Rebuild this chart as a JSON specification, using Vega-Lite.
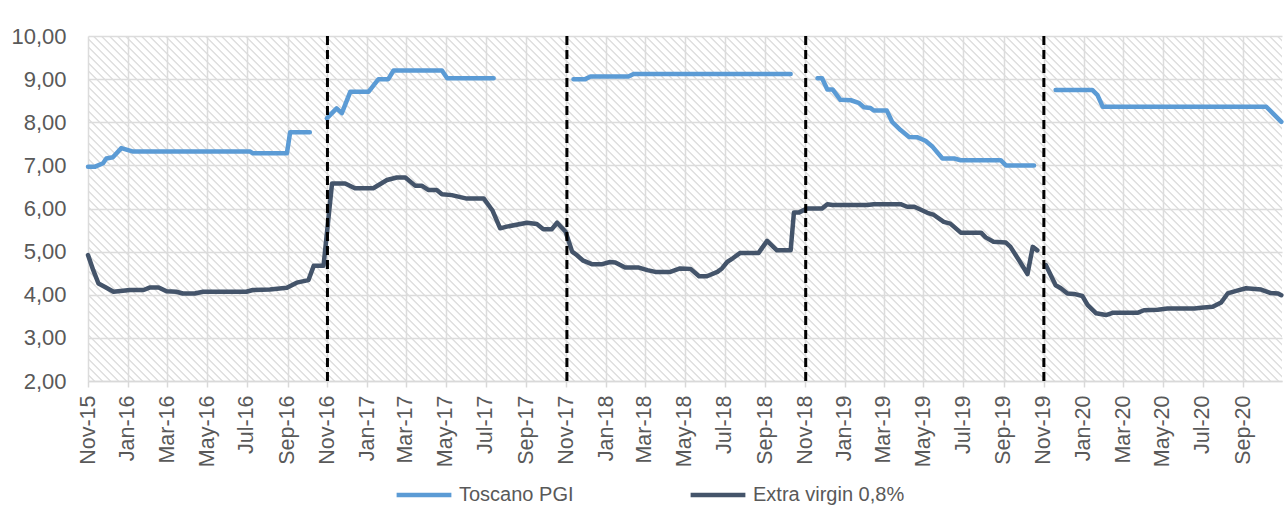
{
  "$schema": "https://vega.github.io/schema/vega-lite/v6.json",
  "width": 1194,
  "height": 345,
  "autosize": "none",
  "padding": {"left": 88, "top": 36, "right": 6, "bottom": 131},
  "background": "white",
  "config": {
    "view": {"stroke": null, "fill": {"gradient": "linear", "x1": 0, "y1": 1, "x2": 1.23677, "y2": 0.64264, "stops": [
{"offset":0.000,"color":"#fff"},{"offset":0.003,"color":"#fff"},{"offset":0.004,"color":"#d4d4d4"},{"offset":0.005,"color":"#fff"},{"offset":0.008,"color":"#fff"},{"offset":0.009,"color":"#d4d4d4"},
{"offset":0.010,"color":"#fff"},{"offset":0.013,"color":"#fff"},{"offset":0.014,"color":"#d4d4d4"},{"offset":0.015,"color":"#fff"},{"offset":0.018,"color":"#fff"},{"offset":0.019,"color":"#d4d4d4"},
{"offset":0.020,"color":"#fff"},{"offset":0.023,"color":"#fff"},{"offset":0.024,"color":"#d4d4d4"},{"offset":0.025,"color":"#fff"},{"offset":0.028,"color":"#fff"},{"offset":0.029,"color":"#d4d4d4"},
{"offset":0.030,"color":"#fff"},{"offset":0.033,"color":"#fff"},{"offset":0.034,"color":"#d4d4d4"},{"offset":0.035,"color":"#fff"},{"offset":0.038,"color":"#fff"},{"offset":0.039,"color":"#d4d4d4"},
{"offset":0.040,"color":"#fff"},{"offset":0.043,"color":"#fff"},{"offset":0.044,"color":"#d4d4d4"},{"offset":0.045,"color":"#fff"},{"offset":0.048,"color":"#fff"},{"offset":0.049,"color":"#d4d4d4"},
{"offset":0.050,"color":"#fff"},{"offset":0.053,"color":"#fff"},{"offset":0.054,"color":"#d4d4d4"},{"offset":0.055,"color":"#fff"},{"offset":0.058,"color":"#fff"},{"offset":0.059,"color":"#d4d4d4"},
{"offset":0.060,"color":"#fff"},{"offset":0.063,"color":"#fff"},{"offset":0.064,"color":"#d4d4d4"},{"offset":0.065,"color":"#fff"},{"offset":0.068,"color":"#fff"},{"offset":0.069,"color":"#d4d4d4"},
{"offset":0.070,"color":"#fff"},{"offset":0.073,"color":"#fff"},{"offset":0.074,"color":"#d4d4d4"},{"offset":0.075,"color":"#fff"},{"offset":0.078,"color":"#fff"},{"offset":0.079,"color":"#d4d4d4"},
{"offset":0.080,"color":"#fff"},{"offset":0.083,"color":"#fff"},{"offset":0.084,"color":"#d4d4d4"},{"offset":0.085,"color":"#fff"},{"offset":0.088,"color":"#fff"},{"offset":0.089,"color":"#d4d4d4"},
{"offset":0.090,"color":"#fff"},{"offset":0.093,"color":"#fff"},{"offset":0.094,"color":"#d4d4d4"},{"offset":0.095,"color":"#fff"},{"offset":0.098,"color":"#fff"},{"offset":0.099,"color":"#d4d4d4"},
{"offset":0.100,"color":"#fff"},{"offset":0.103,"color":"#fff"},{"offset":0.104,"color":"#d4d4d4"},{"offset":0.105,"color":"#fff"},{"offset":0.108,"color":"#fff"},{"offset":0.109,"color":"#d4d4d4"},
{"offset":0.110,"color":"#fff"},{"offset":0.113,"color":"#fff"},{"offset":0.114,"color":"#d4d4d4"},{"offset":0.115,"color":"#fff"},{"offset":0.118,"color":"#fff"},{"offset":0.119,"color":"#d4d4d4"},
{"offset":0.120,"color":"#fff"},{"offset":0.123,"color":"#fff"},{"offset":0.124,"color":"#d4d4d4"},{"offset":0.125,"color":"#fff"},{"offset":0.128,"color":"#fff"},{"offset":0.129,"color":"#d4d4d4"},
{"offset":0.130,"color":"#fff"},{"offset":0.133,"color":"#fff"},{"offset":0.134,"color":"#d4d4d4"},{"offset":0.135,"color":"#fff"},{"offset":0.138,"color":"#fff"},{"offset":0.139,"color":"#d4d4d4"},
{"offset":0.140,"color":"#fff"},{"offset":0.143,"color":"#fff"},{"offset":0.144,"color":"#d4d4d4"},{"offset":0.145,"color":"#fff"},{"offset":0.148,"color":"#fff"},{"offset":0.149,"color":"#d4d4d4"},
{"offset":0.150,"color":"#fff"},{"offset":0.153,"color":"#fff"},{"offset":0.154,"color":"#d4d4d4"},{"offset":0.155,"color":"#fff"},{"offset":0.158,"color":"#fff"},{"offset":0.159,"color":"#d4d4d4"},
{"offset":0.160,"color":"#fff"},{"offset":0.163,"color":"#fff"},{"offset":0.164,"color":"#d4d4d4"},{"offset":0.165,"color":"#fff"},{"offset":0.168,"color":"#fff"},{"offset":0.169,"color":"#d4d4d4"},
{"offset":0.170,"color":"#fff"},{"offset":0.173,"color":"#fff"},{"offset":0.174,"color":"#d4d4d4"},{"offset":0.175,"color":"#fff"},{"offset":0.178,"color":"#fff"},{"offset":0.179,"color":"#d4d4d4"},
{"offset":0.180,"color":"#fff"},{"offset":0.183,"color":"#fff"},{"offset":0.184,"color":"#d4d4d4"},{"offset":0.185,"color":"#fff"},{"offset":0.188,"color":"#fff"},{"offset":0.189,"color":"#d4d4d4"},
{"offset":0.190,"color":"#fff"},{"offset":0.193,"color":"#fff"},{"offset":0.194,"color":"#d4d4d4"},{"offset":0.195,"color":"#fff"},{"offset":0.198,"color":"#fff"},{"offset":0.199,"color":"#d4d4d4"},
{"offset":0.200,"color":"#fff"},{"offset":0.203,"color":"#fff"},{"offset":0.204,"color":"#d4d4d4"},{"offset":0.205,"color":"#fff"},{"offset":0.208,"color":"#fff"},{"offset":0.209,"color":"#d4d4d4"},
{"offset":0.210,"color":"#fff"},{"offset":0.213,"color":"#fff"},{"offset":0.214,"color":"#d4d4d4"},{"offset":0.215,"color":"#fff"},{"offset":0.218,"color":"#fff"},{"offset":0.219,"color":"#d4d4d4"},
{"offset":0.220,"color":"#fff"},{"offset":0.223,"color":"#fff"},{"offset":0.224,"color":"#d4d4d4"},{"offset":0.225,"color":"#fff"},{"offset":0.228,"color":"#fff"},{"offset":0.229,"color":"#d4d4d4"},
{"offset":0.230,"color":"#fff"},{"offset":0.233,"color":"#fff"},{"offset":0.234,"color":"#d4d4d4"},{"offset":0.235,"color":"#fff"},{"offset":0.238,"color":"#fff"},{"offset":0.239,"color":"#d4d4d4"},
{"offset":0.240,"color":"#fff"},{"offset":0.243,"color":"#fff"},{"offset":0.244,"color":"#d4d4d4"},{"offset":0.245,"color":"#fff"},{"offset":0.248,"color":"#fff"},{"offset":0.249,"color":"#d4d4d4"},
{"offset":0.250,"color":"#fff"},{"offset":0.253,"color":"#fff"},{"offset":0.254,"color":"#d4d4d4"},{"offset":0.255,"color":"#fff"},{"offset":0.258,"color":"#fff"},{"offset":0.259,"color":"#d4d4d4"},
{"offset":0.260,"color":"#fff"},{"offset":0.263,"color":"#fff"},{"offset":0.264,"color":"#d4d4d4"},{"offset":0.265,"color":"#fff"},{"offset":0.268,"color":"#fff"},{"offset":0.269,"color":"#d4d4d4"},
{"offset":0.270,"color":"#fff"},{"offset":0.273,"color":"#fff"},{"offset":0.274,"color":"#d4d4d4"},{"offset":0.275,"color":"#fff"},{"offset":0.278,"color":"#fff"},{"offset":0.279,"color":"#d4d4d4"},
{"offset":0.280,"color":"#fff"},{"offset":0.283,"color":"#fff"},{"offset":0.284,"color":"#d4d4d4"},{"offset":0.285,"color":"#fff"},{"offset":0.288,"color":"#fff"},{"offset":0.289,"color":"#d4d4d4"},
{"offset":0.290,"color":"#fff"},{"offset":0.293,"color":"#fff"},{"offset":0.294,"color":"#d4d4d4"},{"offset":0.295,"color":"#fff"},{"offset":0.298,"color":"#fff"},{"offset":0.299,"color":"#d4d4d4"},
{"offset":0.300,"color":"#fff"},{"offset":0.303,"color":"#fff"},{"offset":0.304,"color":"#d4d4d4"},{"offset":0.305,"color":"#fff"},{"offset":0.308,"color":"#fff"},{"offset":0.309,"color":"#d4d4d4"},
{"offset":0.310,"color":"#fff"},{"offset":0.313,"color":"#fff"},{"offset":0.314,"color":"#d4d4d4"},{"offset":0.315,"color":"#fff"},{"offset":0.318,"color":"#fff"},{"offset":0.319,"color":"#d4d4d4"},
{"offset":0.320,"color":"#fff"},{"offset":0.323,"color":"#fff"},{"offset":0.324,"color":"#d4d4d4"},{"offset":0.325,"color":"#fff"},{"offset":0.328,"color":"#fff"},{"offset":0.329,"color":"#d4d4d4"},
{"offset":0.330,"color":"#fff"},{"offset":0.333,"color":"#fff"},{"offset":0.334,"color":"#d4d4d4"},{"offset":0.335,"color":"#fff"},{"offset":0.338,"color":"#fff"},{"offset":0.339,"color":"#d4d4d4"},
{"offset":0.340,"color":"#fff"},{"offset":0.343,"color":"#fff"},{"offset":0.344,"color":"#d4d4d4"},{"offset":0.345,"color":"#fff"},{"offset":0.348,"color":"#fff"},{"offset":0.349,"color":"#d4d4d4"},
{"offset":0.350,"color":"#fff"},{"offset":0.353,"color":"#fff"},{"offset":0.354,"color":"#d4d4d4"},{"offset":0.355,"color":"#fff"},{"offset":0.358,"color":"#fff"},{"offset":0.359,"color":"#d4d4d4"},
{"offset":0.360,"color":"#fff"},{"offset":0.363,"color":"#fff"},{"offset":0.364,"color":"#d4d4d4"},{"offset":0.365,"color":"#fff"},{"offset":0.368,"color":"#fff"},{"offset":0.369,"color":"#d4d4d4"},
{"offset":0.370,"color":"#fff"},{"offset":0.373,"color":"#fff"},{"offset":0.374,"color":"#d4d4d4"},{"offset":0.375,"color":"#fff"},{"offset":0.378,"color":"#fff"},{"offset":0.379,"color":"#d4d4d4"},
{"offset":0.380,"color":"#fff"},{"offset":0.383,"color":"#fff"},{"offset":0.384,"color":"#d4d4d4"},{"offset":0.385,"color":"#fff"},{"offset":0.388,"color":"#fff"},{"offset":0.389,"color":"#d4d4d4"},
{"offset":0.390,"color":"#fff"},{"offset":0.393,"color":"#fff"},{"offset":0.394,"color":"#d4d4d4"},{"offset":0.395,"color":"#fff"},{"offset":0.398,"color":"#fff"},{"offset":0.399,"color":"#d4d4d4"},
{"offset":0.400,"color":"#fff"},{"offset":0.403,"color":"#fff"},{"offset":0.404,"color":"#d4d4d4"},{"offset":0.405,"color":"#fff"},{"offset":0.408,"color":"#fff"},{"offset":0.409,"color":"#d4d4d4"},
{"offset":0.410,"color":"#fff"},{"offset":0.413,"color":"#fff"},{"offset":0.414,"color":"#d4d4d4"},{"offset":0.415,"color":"#fff"},{"offset":0.418,"color":"#fff"},{"offset":0.419,"color":"#d4d4d4"},
{"offset":0.420,"color":"#fff"},{"offset":0.423,"color":"#fff"},{"offset":0.424,"color":"#d4d4d4"},{"offset":0.425,"color":"#fff"},{"offset":0.428,"color":"#fff"},{"offset":0.429,"color":"#d4d4d4"},
{"offset":0.430,"color":"#fff"},{"offset":0.433,"color":"#fff"},{"offset":0.434,"color":"#d4d4d4"},{"offset":0.435,"color":"#fff"},{"offset":0.438,"color":"#fff"},{"offset":0.439,"color":"#d4d4d4"},
{"offset":0.440,"color":"#fff"},{"offset":0.443,"color":"#fff"},{"offset":0.444,"color":"#d4d4d4"},{"offset":0.445,"color":"#fff"},{"offset":0.448,"color":"#fff"},{"offset":0.449,"color":"#d4d4d4"},
{"offset":0.450,"color":"#fff"},{"offset":0.453,"color":"#fff"},{"offset":0.454,"color":"#d4d4d4"},{"offset":0.455,"color":"#fff"},{"offset":0.458,"color":"#fff"},{"offset":0.459,"color":"#d4d4d4"},
{"offset":0.460,"color":"#fff"},{"offset":0.463,"color":"#fff"},{"offset":0.464,"color":"#d4d4d4"},{"offset":0.465,"color":"#fff"},{"offset":0.468,"color":"#fff"},{"offset":0.469,"color":"#d4d4d4"},
{"offset":0.470,"color":"#fff"},{"offset":0.473,"color":"#fff"},{"offset":0.474,"color":"#d4d4d4"},{"offset":0.475,"color":"#fff"},{"offset":0.478,"color":"#fff"},{"offset":0.479,"color":"#d4d4d4"},
{"offset":0.480,"color":"#fff"},{"offset":0.483,"color":"#fff"},{"offset":0.484,"color":"#d4d4d4"},{"offset":0.485,"color":"#fff"},{"offset":0.488,"color":"#fff"},{"offset":0.489,"color":"#d4d4d4"},
{"offset":0.490,"color":"#fff"},{"offset":0.493,"color":"#fff"},{"offset":0.494,"color":"#d4d4d4"},{"offset":0.495,"color":"#fff"},{"offset":0.498,"color":"#fff"},{"offset":0.499,"color":"#d4d4d4"},
{"offset":0.500,"color":"#fff"},{"offset":0.503,"color":"#fff"},{"offset":0.504,"color":"#d4d4d4"},{"offset":0.505,"color":"#fff"},{"offset":0.508,"color":"#fff"},{"offset":0.509,"color":"#d4d4d4"},
{"offset":0.510,"color":"#fff"},{"offset":0.513,"color":"#fff"},{"offset":0.514,"color":"#d4d4d4"},{"offset":0.515,"color":"#fff"},{"offset":0.518,"color":"#fff"},{"offset":0.519,"color":"#d4d4d4"},
{"offset":0.520,"color":"#fff"},{"offset":0.523,"color":"#fff"},{"offset":0.524,"color":"#d4d4d4"},{"offset":0.525,"color":"#fff"},{"offset":0.528,"color":"#fff"},{"offset":0.529,"color":"#d4d4d4"},
{"offset":0.530,"color":"#fff"},{"offset":0.533,"color":"#fff"},{"offset":0.534,"color":"#d4d4d4"},{"offset":0.535,"color":"#fff"},{"offset":0.538,"color":"#fff"},{"offset":0.539,"color":"#d4d4d4"},
{"offset":0.540,"color":"#fff"},{"offset":0.543,"color":"#fff"},{"offset":0.544,"color":"#d4d4d4"},{"offset":0.545,"color":"#fff"},{"offset":0.548,"color":"#fff"},{"offset":0.549,"color":"#d4d4d4"},
{"offset":0.550,"color":"#fff"},{"offset":0.553,"color":"#fff"},{"offset":0.554,"color":"#d4d4d4"},{"offset":0.555,"color":"#fff"},{"offset":0.558,"color":"#fff"},{"offset":0.559,"color":"#d4d4d4"},
{"offset":0.560,"color":"#fff"},{"offset":0.563,"color":"#fff"},{"offset":0.564,"color":"#d4d4d4"},{"offset":0.565,"color":"#fff"},{"offset":0.568,"color":"#fff"},{"offset":0.569,"color":"#d4d4d4"},
{"offset":0.570,"color":"#fff"},{"offset":0.573,"color":"#fff"},{"offset":0.574,"color":"#d4d4d4"},{"offset":0.575,"color":"#fff"},{"offset":0.578,"color":"#fff"},{"offset":0.579,"color":"#d4d4d4"},
{"offset":0.580,"color":"#fff"},{"offset":0.583,"color":"#fff"},{"offset":0.584,"color":"#d4d4d4"},{"offset":0.585,"color":"#fff"},{"offset":0.588,"color":"#fff"},{"offset":0.589,"color":"#d4d4d4"},
{"offset":0.590,"color":"#fff"},{"offset":0.593,"color":"#fff"},{"offset":0.594,"color":"#d4d4d4"},{"offset":0.595,"color":"#fff"},{"offset":0.598,"color":"#fff"},{"offset":0.599,"color":"#d4d4d4"},
{"offset":0.600,"color":"#fff"},{"offset":0.603,"color":"#fff"},{"offset":0.604,"color":"#d4d4d4"},{"offset":0.605,"color":"#fff"},{"offset":0.608,"color":"#fff"},{"offset":0.609,"color":"#d4d4d4"},
{"offset":0.610,"color":"#fff"},{"offset":0.613,"color":"#fff"},{"offset":0.614,"color":"#d4d4d4"},{"offset":0.615,"color":"#fff"},{"offset":0.618,"color":"#fff"},{"offset":0.619,"color":"#d4d4d4"},
{"offset":0.620,"color":"#fff"},{"offset":0.623,"color":"#fff"},{"offset":0.624,"color":"#d4d4d4"},{"offset":0.625,"color":"#fff"},{"offset":0.628,"color":"#fff"},{"offset":0.629,"color":"#d4d4d4"},
{"offset":0.630,"color":"#fff"},{"offset":0.633,"color":"#fff"},{"offset":0.634,"color":"#d4d4d4"},{"offset":0.635,"color":"#fff"},{"offset":0.638,"color":"#fff"},{"offset":0.639,"color":"#d4d4d4"},
{"offset":0.640,"color":"#fff"},{"offset":0.643,"color":"#fff"},{"offset":0.644,"color":"#d4d4d4"},{"offset":0.645,"color":"#fff"},{"offset":0.648,"color":"#fff"},{"offset":0.649,"color":"#d4d4d4"},
{"offset":0.650,"color":"#fff"},{"offset":0.653,"color":"#fff"},{"offset":0.654,"color":"#d4d4d4"},{"offset":0.655,"color":"#fff"},{"offset":0.658,"color":"#fff"},{"offset":0.659,"color":"#d4d4d4"},
{"offset":0.660,"color":"#fff"},{"offset":0.663,"color":"#fff"},{"offset":0.664,"color":"#d4d4d4"},{"offset":0.665,"color":"#fff"},{"offset":0.668,"color":"#fff"},{"offset":0.669,"color":"#d4d4d4"},
{"offset":0.670,"color":"#fff"},{"offset":0.673,"color":"#fff"},{"offset":0.674,"color":"#d4d4d4"},{"offset":0.675,"color":"#fff"},{"offset":0.678,"color":"#fff"},{"offset":0.679,"color":"#d4d4d4"},
{"offset":0.680,"color":"#fff"},{"offset":0.683,"color":"#fff"},{"offset":0.684,"color":"#d4d4d4"},{"offset":0.685,"color":"#fff"},{"offset":0.688,"color":"#fff"},{"offset":0.689,"color":"#d4d4d4"},
{"offset":0.690,"color":"#fff"},{"offset":0.693,"color":"#fff"},{"offset":0.694,"color":"#d4d4d4"},{"offset":0.695,"color":"#fff"},{"offset":0.698,"color":"#fff"},{"offset":0.699,"color":"#d4d4d4"},
{"offset":0.700,"color":"#fff"},{"offset":0.703,"color":"#fff"},{"offset":0.704,"color":"#d4d4d4"},{"offset":0.705,"color":"#fff"},{"offset":0.708,"color":"#fff"},{"offset":0.709,"color":"#d4d4d4"},
{"offset":0.710,"color":"#fff"},{"offset":0.713,"color":"#fff"},{"offset":0.714,"color":"#d4d4d4"},{"offset":0.715,"color":"#fff"},{"offset":0.718,"color":"#fff"},{"offset":0.719,"color":"#d4d4d4"},
{"offset":0.720,"color":"#fff"},{"offset":0.723,"color":"#fff"},{"offset":0.724,"color":"#d4d4d4"},{"offset":0.725,"color":"#fff"},{"offset":0.728,"color":"#fff"},{"offset":0.729,"color":"#d4d4d4"},
{"offset":0.730,"color":"#fff"},{"offset":0.733,"color":"#fff"},{"offset":0.734,"color":"#d4d4d4"},{"offset":0.735,"color":"#fff"},{"offset":0.738,"color":"#fff"},{"offset":0.739,"color":"#d4d4d4"},
{"offset":0.740,"color":"#fff"},{"offset":0.743,"color":"#fff"},{"offset":0.744,"color":"#d4d4d4"},{"offset":0.745,"color":"#fff"},{"offset":0.748,"color":"#fff"},{"offset":0.749,"color":"#d4d4d4"},
{"offset":0.750,"color":"#fff"},{"offset":0.753,"color":"#fff"},{"offset":0.754,"color":"#d4d4d4"},{"offset":0.755,"color":"#fff"},{"offset":0.758,"color":"#fff"},{"offset":0.759,"color":"#d4d4d4"},
{"offset":0.760,"color":"#fff"},{"offset":0.763,"color":"#fff"},{"offset":0.764,"color":"#d4d4d4"},{"offset":0.765,"color":"#fff"},{"offset":0.768,"color":"#fff"},{"offset":0.769,"color":"#d4d4d4"},
{"offset":0.770,"color":"#fff"},{"offset":0.773,"color":"#fff"},{"offset":0.774,"color":"#d4d4d4"},{"offset":0.775,"color":"#fff"},{"offset":0.778,"color":"#fff"},{"offset":0.779,"color":"#d4d4d4"},
{"offset":0.780,"color":"#fff"},{"offset":0.783,"color":"#fff"},{"offset":0.784,"color":"#d4d4d4"},{"offset":0.785,"color":"#fff"},{"offset":0.788,"color":"#fff"},{"offset":0.789,"color":"#d4d4d4"},
{"offset":0.790,"color":"#fff"},{"offset":0.793,"color":"#fff"},{"offset":0.794,"color":"#d4d4d4"},{"offset":0.795,"color":"#fff"},{"offset":0.798,"color":"#fff"},{"offset":0.799,"color":"#d4d4d4"},
{"offset":0.800,"color":"#fff"},{"offset":0.803,"color":"#fff"},{"offset":0.804,"color":"#d4d4d4"},{"offset":0.805,"color":"#fff"},{"offset":0.808,"color":"#fff"},{"offset":0.809,"color":"#d4d4d4"},
{"offset":0.810,"color":"#fff"},{"offset":0.813,"color":"#fff"},{"offset":0.814,"color":"#d4d4d4"},{"offset":0.815,"color":"#fff"},{"offset":0.818,"color":"#fff"},{"offset":0.819,"color":"#d4d4d4"},
{"offset":0.820,"color":"#fff"},{"offset":0.823,"color":"#fff"},{"offset":0.824,"color":"#d4d4d4"},{"offset":0.825,"color":"#fff"},{"offset":0.828,"color":"#fff"},{"offset":0.829,"color":"#d4d4d4"},
{"offset":0.830,"color":"#fff"},{"offset":0.833,"color":"#fff"},{"offset":0.834,"color":"#d4d4d4"},{"offset":0.835,"color":"#fff"},{"offset":0.838,"color":"#fff"},{"offset":0.839,"color":"#d4d4d4"},
{"offset":0.840,"color":"#fff"},{"offset":0.843,"color":"#fff"},{"offset":0.844,"color":"#d4d4d4"},{"offset":0.845,"color":"#fff"},{"offset":0.848,"color":"#fff"},{"offset":0.849,"color":"#d4d4d4"},
{"offset":0.850,"color":"#fff"},{"offset":0.853,"color":"#fff"},{"offset":0.854,"color":"#d4d4d4"},{"offset":0.855,"color":"#fff"},{"offset":0.858,"color":"#fff"},{"offset":0.859,"color":"#d4d4d4"},
{"offset":0.860,"color":"#fff"},{"offset":0.863,"color":"#fff"},{"offset":0.864,"color":"#d4d4d4"},{"offset":0.865,"color":"#fff"},{"offset":0.868,"color":"#fff"},{"offset":0.869,"color":"#d4d4d4"},
{"offset":0.870,"color":"#fff"},{"offset":0.873,"color":"#fff"},{"offset":0.874,"color":"#d4d4d4"},{"offset":0.875,"color":"#fff"},{"offset":0.878,"color":"#fff"},{"offset":0.879,"color":"#d4d4d4"},
{"offset":0.880,"color":"#fff"},{"offset":0.883,"color":"#fff"},{"offset":0.884,"color":"#d4d4d4"},{"offset":0.885,"color":"#fff"},{"offset":0.888,"color":"#fff"},{"offset":0.889,"color":"#d4d4d4"},
{"offset":0.890,"color":"#fff"},{"offset":0.893,"color":"#fff"},{"offset":0.894,"color":"#d4d4d4"},{"offset":0.895,"color":"#fff"},{"offset":0.898,"color":"#fff"},{"offset":0.899,"color":"#d4d4d4"},
{"offset":0.900,"color":"#fff"},{"offset":0.903,"color":"#fff"},{"offset":0.904,"color":"#d4d4d4"},{"offset":0.905,"color":"#fff"},{"offset":0.908,"color":"#fff"},{"offset":0.909,"color":"#d4d4d4"},
{"offset":0.910,"color":"#fff"},{"offset":0.913,"color":"#fff"},{"offset":0.914,"color":"#d4d4d4"},{"offset":0.915,"color":"#fff"},{"offset":0.918,"color":"#fff"},{"offset":0.919,"color":"#d4d4d4"},
{"offset":0.920,"color":"#fff"},{"offset":0.923,"color":"#fff"},{"offset":0.924,"color":"#d4d4d4"},{"offset":0.925,"color":"#fff"},{"offset":0.928,"color":"#fff"},{"offset":0.929,"color":"#d4d4d4"},
{"offset":0.930,"color":"#fff"},{"offset":0.933,"color":"#fff"},{"offset":0.934,"color":"#d4d4d4"},{"offset":0.935,"color":"#fff"},{"offset":0.938,"color":"#fff"},{"offset":0.939,"color":"#d4d4d4"},
{"offset":0.940,"color":"#fff"},{"offset":0.943,"color":"#fff"},{"offset":0.944,"color":"#d4d4d4"},{"offset":0.945,"color":"#fff"},{"offset":0.948,"color":"#fff"},{"offset":0.949,"color":"#d4d4d4"},
{"offset":0.950,"color":"#fff"},{"offset":0.953,"color":"#fff"},{"offset":0.954,"color":"#d4d4d4"},{"offset":0.955,"color":"#fff"},{"offset":0.958,"color":"#fff"},{"offset":0.959,"color":"#d4d4d4"},
{"offset":0.960,"color":"#fff"},{"offset":0.963,"color":"#fff"},{"offset":0.964,"color":"#d4d4d4"},{"offset":0.965,"color":"#fff"},{"offset":0.968,"color":"#fff"},{"offset":0.969,"color":"#d4d4d4"},
{"offset":0.970,"color":"#fff"}
]}},
    "font": "Liberation Sans",
    "axis": {"labelColor": "#595959", "labelFont": "Liberation Sans"}
  },
  "datasets": {
    "prices": [
      {"series": "Toscano PGI", "seg": "t1", "date": "2015-11-01T00:00:00", "price": 6.97},
      {"series": "Toscano PGI", "seg": "t1", "date": "2015-11-12T00:00:00", "price": 6.97},
      {"series": "Toscano PGI", "seg": "t1", "date": "2015-11-24T00:00:00", "price": 7.05},
      {"series": "Toscano PGI", "seg": "t1", "date": "2015-11-29T00:00:00", "price": 7.16},
      {"series": "Toscano PGI", "seg": "t1", "date": "2015-12-09T00:00:00", "price": 7.19},
      {"series": "Toscano PGI", "seg": "t1", "date": "2015-12-22T00:00:00", "price": 7.40},
      {"series": "Toscano PGI", "seg": "t1", "date": "2016-01-09T00:00:00", "price": 7.32},
      {"series": "Toscano PGI", "seg": "t1", "date": "2016-07-06T00:00:00", "price": 7.32},
      {"series": "Toscano PGI", "seg": "t1", "date": "2016-07-10T00:00:00", "price": 7.28},
      {"series": "Toscano PGI", "seg": "t1", "date": "2016-08-31T00:00:00", "price": 7.28},
      {"series": "Toscano PGI", "seg": "t1", "date": "2016-09-05T00:00:00", "price": 7.77},
      {"series": "Toscano PGI", "seg": "t1", "date": "2016-10-05T00:00:00", "price": 7.77},
      {"series": "Toscano PGI", "seg": "t2", "date": "2016-10-31T00:00:00", "price": 8.09},
      {"series": "Toscano PGI", "seg": "t2", "date": "2016-11-15T00:00:00", "price": 8.32},
      {"series": "Toscano PGI", "seg": "t2", "date": "2016-11-23T00:00:00", "price": 8.21},
      {"series": "Toscano PGI", "seg": "t2", "date": "2016-12-06T00:00:00", "price": 8.71},
      {"series": "Toscano PGI", "seg": "t2", "date": "2017-01-03T00:00:00", "price": 8.71},
      {"series": "Toscano PGI", "seg": "t2", "date": "2017-01-18T00:00:00", "price": 9.00},
      {"series": "Toscano PGI", "seg": "t2", "date": "2017-02-02T00:00:00", "price": 9.00},
      {"series": "Toscano PGI", "seg": "t2", "date": "2017-02-10T00:00:00", "price": 9.20},
      {"series": "Toscano PGI", "seg": "t2", "date": "2017-04-25T00:00:00", "price": 9.20},
      {"series": "Toscano PGI", "seg": "t2", "date": "2017-05-03T00:00:00", "price": 9.02},
      {"series": "Toscano PGI", "seg": "t2", "date": "2017-07-13T00:00:00", "price": 9.02},
      {"series": "Toscano PGI", "seg": "t3", "date": "2017-11-12T00:00:00", "price": 9.00},
      {"series": "Toscano PGI", "seg": "t3", "date": "2017-11-30T00:00:00", "price": 9.00},
      {"series": "Toscano PGI", "seg": "t3", "date": "2017-12-08T00:00:00", "price": 9.06},
      {"series": "Toscano PGI", "seg": "t3", "date": "2018-02-04T00:00:00", "price": 9.06},
      {"series": "Toscano PGI", "seg": "t3", "date": "2018-02-12T00:00:00", "price": 9.12},
      {"series": "Toscano PGI", "seg": "t3", "date": "2018-10-10T00:00:00", "price": 9.12},
      {"series": "Toscano PGI", "seg": "t4", "date": "2018-11-20T00:00:00", "price": 9.02},
      {"series": "Toscano PGI", "seg": "t4", "date": "2018-11-27T00:00:00", "price": 9.02},
      {"series": "Toscano PGI", "seg": "t4", "date": "2018-12-05T00:00:00", "price": 8.76},
      {"series": "Toscano PGI", "seg": "t4", "date": "2018-12-13T00:00:00", "price": 8.76},
      {"series": "Toscano PGI", "seg": "t4", "date": "2018-12-25T00:00:00", "price": 8.52},
      {"series": "Toscano PGI", "seg": "t4", "date": "2019-01-10T00:00:00", "price": 8.51},
      {"series": "Toscano PGI", "seg": "t4", "date": "2019-01-22T00:00:00", "price": 8.45},
      {"series": "Toscano PGI", "seg": "t4", "date": "2019-01-30T00:00:00", "price": 8.35},
      {"series": "Toscano PGI", "seg": "t4", "date": "2019-02-09T00:00:00", "price": 8.33},
      {"series": "Toscano PGI", "seg": "t4", "date": "2019-02-14T00:00:00", "price": 8.27},
      {"series": "Toscano PGI", "seg": "t4", "date": "2019-03-06T00:00:00", "price": 8.27},
      {"series": "Toscano PGI", "seg": "t4", "date": "2019-03-14T00:00:00", "price": 8.01},
      {"series": "Toscano PGI", "seg": "t4", "date": "2019-03-27T00:00:00", "price": 7.82},
      {"series": "Toscano PGI", "seg": "t4", "date": "2019-04-09T00:00:00", "price": 7.66},
      {"series": "Toscano PGI", "seg": "t4", "date": "2019-04-22T00:00:00", "price": 7.65},
      {"series": "Toscano PGI", "seg": "t4", "date": "2019-05-04T00:00:00", "price": 7.57},
      {"series": "Toscano PGI", "seg": "t4", "date": "2019-05-15T00:00:00", "price": 7.43},
      {"series": "Toscano PGI", "seg": "t4", "date": "2019-05-30T00:00:00", "price": 7.16},
      {"series": "Toscano PGI", "seg": "t4", "date": "2019-06-17T00:00:00", "price": 7.16},
      {"series": "Toscano PGI", "seg": "t4", "date": "2019-06-27T00:00:00", "price": 7.12},
      {"series": "Toscano PGI", "seg": "t4", "date": "2019-08-27T00:00:00", "price": 7.12},
      {"series": "Toscano PGI", "seg": "t4", "date": "2019-09-04T00:00:00", "price": 7.00},
      {"series": "Toscano PGI", "seg": "t4", "date": "2019-10-17T00:00:00", "price": 7.00},
      {"series": "Toscano PGI", "seg": "t5", "date": "2019-11-19T00:00:00", "price": 8.75},
      {"series": "Toscano PGI", "seg": "t5", "date": "2020-01-14T00:00:00", "price": 8.75},
      {"series": "Toscano PGI", "seg": "t5", "date": "2020-01-22T00:00:00", "price": 8.63},
      {"series": "Toscano PGI", "seg": "t5", "date": "2020-01-30T00:00:00", "price": 8.36},
      {"series": "Toscano PGI", "seg": "t5", "date": "2020-10-06T00:00:00", "price": 8.36},
      {"series": "Toscano PGI", "seg": "t5", "date": "2020-10-29T00:00:00", "price": 8.01},
      {"series": "Extra virgin 0,8%", "seg": "e1", "date": "2015-11-01T00:00:00", "price": 4.92},
      {"series": "Extra virgin 0,8%", "seg": "e1", "date": "2015-11-09T00:00:00", "price": 4.57},
      {"series": "Extra virgin 0,8%", "seg": "e1", "date": "2015-11-17T00:00:00", "price": 4.26},
      {"series": "Extra virgin 0,8%", "seg": "e1", "date": "2015-11-27T00:00:00", "price": 4.18},
      {"series": "Extra virgin 0,8%", "seg": "e1", "date": "2015-12-10T00:00:00", "price": 4.07},
      {"series": "Extra virgin 0,8%", "seg": "e1", "date": "2016-01-04T00:00:00", "price": 4.11},
      {"series": "Extra virgin 0,8%", "seg": "e1", "date": "2016-01-25T00:00:00", "price": 4.11},
      {"series": "Extra virgin 0,8%", "seg": "e1", "date": "2016-02-04T00:00:00", "price": 4.17},
      {"series": "Extra virgin 0,8%", "seg": "e1", "date": "2016-02-17T00:00:00", "price": 4.17},
      {"series": "Extra virgin 0,8%", "seg": "e1", "date": "2016-02-29T00:00:00", "price": 4.08},
      {"series": "Extra virgin 0,8%", "seg": "e1", "date": "2016-03-15T00:00:00", "price": 4.07},
      {"series": "Extra virgin 0,8%", "seg": "e1", "date": "2016-03-25T00:00:00", "price": 4.03},
      {"series": "Extra virgin 0,8%", "seg": "e1", "date": "2016-04-12T00:00:00", "price": 4.03},
      {"series": "Extra virgin 0,8%", "seg": "e1", "date": "2016-04-25T00:00:00", "price": 4.07},
      {"series": "Extra virgin 0,8%", "seg": "e1", "date": "2016-06-30T00:00:00", "price": 4.07},
      {"series": "Extra virgin 0,8%", "seg": "e1", "date": "2016-07-10T00:00:00", "price": 4.11},
      {"series": "Extra virgin 0,8%", "seg": "e1", "date": "2016-08-05T00:00:00", "price": 4.12},
      {"series": "Extra virgin 0,8%", "seg": "e1", "date": "2016-08-31T00:00:00", "price": 4.16},
      {"series": "Extra virgin 0,8%", "seg": "e1", "date": "2016-09-15T00:00:00", "price": 4.28},
      {"series": "Extra virgin 0,8%", "seg": "e1", "date": "2016-10-03T00:00:00", "price": 4.34},
      {"series": "Extra virgin 0,8%", "seg": "e1", "date": "2016-10-11T00:00:00", "price": 4.67},
      {"series": "Extra virgin 0,8%", "seg": "e1", "date": "2016-10-26T00:00:00", "price": 4.67},
      {"series": "Extra virgin 0,8%", "seg": "e1", "date": "2016-11-08T00:00:00", "price": 6.58},
      {"series": "Extra virgin 0,8%", "seg": "e1", "date": "2016-11-28T00:00:00", "price": 6.58},
      {"series": "Extra virgin 0,8%", "seg": "e1", "date": "2016-12-13T00:00:00", "price": 6.47},
      {"series": "Extra virgin 0,8%", "seg": "e1", "date": "2017-01-10T00:00:00", "price": 6.47},
      {"series": "Extra virgin 0,8%", "seg": "e1", "date": "2017-01-31T00:00:00", "price": 6.66},
      {"series": "Extra virgin 0,8%", "seg": "e1", "date": "2017-02-15T00:00:00", "price": 6.72},
      {"series": "Extra virgin 0,8%", "seg": "e1", "date": "2017-02-28T00:00:00", "price": 6.72},
      {"series": "Extra virgin 0,8%", "seg": "e1", "date": "2017-03-15T00:00:00", "price": 6.53},
      {"series": "Extra virgin 0,8%", "seg": "e1", "date": "2017-03-25T00:00:00", "price": 6.53},
      {"series": "Extra virgin 0,8%", "seg": "e1", "date": "2017-04-04T00:00:00", "price": 6.43},
      {"series": "Extra virgin 0,8%", "seg": "e1", "date": "2017-04-17T00:00:00", "price": 6.43},
      {"series": "Extra virgin 0,8%", "seg": "e1", "date": "2017-04-25T00:00:00", "price": 6.33},
      {"series": "Extra virgin 0,8%", "seg": "e1", "date": "2017-05-10T00:00:00", "price": 6.31},
      {"series": "Extra virgin 0,8%", "seg": "e1", "date": "2017-06-02T00:00:00", "price": 6.23},
      {"series": "Extra virgin 0,8%", "seg": "e1", "date": "2017-06-28T00:00:00", "price": 6.23},
      {"series": "Extra virgin 0,8%", "seg": "e1", "date": "2017-07-11T00:00:00", "price": 5.96},
      {"series": "Extra virgin 0,8%", "seg": "e1", "date": "2017-07-23T00:00:00", "price": 5.54},
      {"series": "Extra virgin 0,8%", "seg": "e1", "date": "2017-08-02T00:00:00", "price": 5.58},
      {"series": "Extra virgin 0,8%", "seg": "e1", "date": "2017-09-02T00:00:00", "price": 5.67},
      {"series": "Extra virgin 0,8%", "seg": "e1", "date": "2017-09-17T00:00:00", "price": 5.64},
      {"series": "Extra virgin 0,8%", "seg": "e1", "date": "2017-09-27T00:00:00", "price": 5.52},
      {"series": "Extra virgin 0,8%", "seg": "e1", "date": "2017-10-10T00:00:00", "price": 5.52},
      {"series": "Extra virgin 0,8%", "seg": "e1", "date": "2017-10-18T00:00:00", "price": 5.67},
      {"series": "Extra virgin 0,8%", "seg": "e1", "date": "2017-10-31T00:00:00", "price": 5.46},
      {"series": "Extra virgin 0,8%", "seg": "e1", "date": "2017-11-10T00:00:00", "price": 5.00},
      {"series": "Extra virgin 0,8%", "seg": "e1", "date": "2017-11-17T00:00:00", "price": 4.92},
      {"series": "Extra virgin 0,8%", "seg": "e1", "date": "2017-11-27T00:00:00", "price": 4.79},
      {"series": "Extra virgin 0,8%", "seg": "e1", "date": "2017-12-10T00:00:00", "price": 4.71},
      {"series": "Extra virgin 0,8%", "seg": "e1", "date": "2017-12-26T00:00:00", "price": 4.71},
      {"series": "Extra virgin 0,8%", "seg": "e1", "date": "2018-01-07T00:00:00", "price": 4.76},
      {"series": "Extra virgin 0,8%", "seg": "e1", "date": "2018-01-15T00:00:00", "price": 4.75},
      {"series": "Extra virgin 0,8%", "seg": "e1", "date": "2018-01-30T00:00:00", "price": 4.63},
      {"series": "Extra virgin 0,8%", "seg": "e1", "date": "2018-02-20T00:00:00", "price": 4.63},
      {"series": "Extra virgin 0,8%", "seg": "e1", "date": "2018-03-05T00:00:00", "price": 4.57},
      {"series": "Extra virgin 0,8%", "seg": "e1", "date": "2018-03-17T00:00:00", "price": 4.53},
      {"series": "Extra virgin 0,8%", "seg": "e1", "date": "2018-04-09T00:00:00", "price": 4.53},
      {"series": "Extra virgin 0,8%", "seg": "e1", "date": "2018-04-24T00:00:00", "price": 4.61},
      {"series": "Extra virgin 0,8%", "seg": "e1", "date": "2018-05-10T00:00:00", "price": 4.60},
      {"series": "Extra virgin 0,8%", "seg": "e1", "date": "2018-05-23T00:00:00", "price": 4.43},
      {"series": "Extra virgin 0,8%", "seg": "e1", "date": "2018-06-04T00:00:00", "price": 4.43},
      {"series": "Extra virgin 0,8%", "seg": "e1", "date": "2018-06-20T00:00:00", "price": 4.53},
      {"series": "Extra virgin 0,8%", "seg": "e1", "date": "2018-06-27T00:00:00", "price": 4.61},
      {"series": "Extra virgin 0,8%", "seg": "e1", "date": "2018-07-05T00:00:00", "price": 4.76},
      {"series": "Extra virgin 0,8%", "seg": "e1", "date": "2018-07-13T00:00:00", "price": 4.84},
      {"series": "Extra virgin 0,8%", "seg": "e1", "date": "2018-07-25T00:00:00", "price": 4.97},
      {"series": "Extra virgin 0,8%", "seg": "e1", "date": "2018-08-22T00:00:00", "price": 4.97},
      {"series": "Extra virgin 0,8%", "seg": "e1", "date": "2018-09-04T00:00:00", "price": 5.25},
      {"series": "Extra virgin 0,8%", "seg": "e1", "date": "2018-09-19T00:00:00", "price": 5.03},
      {"series": "Extra virgin 0,8%", "seg": "e1", "date": "2018-10-10T00:00:00", "price": 5.03},
      {"series": "Extra virgin 0,8%", "seg": "e1", "date": "2018-10-15T00:00:00", "price": 5.91},
      {"series": "Extra virgin 0,8%", "seg": "e1", "date": "2018-10-23T00:00:00", "price": 5.91},
      {"series": "Extra virgin 0,8%", "seg": "e1", "date": "2018-11-04T00:00:00", "price": 6.00},
      {"series": "Extra virgin 0,8%", "seg": "e1", "date": "2018-11-27T00:00:00", "price": 6.00},
      {"series": "Extra virgin 0,8%", "seg": "e1", "date": "2018-12-05T00:00:00", "price": 6.10},
      {"series": "Extra virgin 0,8%", "seg": "e1", "date": "2018-12-13T00:00:00", "price": 6.08},
      {"series": "Extra virgin 0,8%", "seg": "e1", "date": "2019-02-04T00:00:00", "price": 6.08},
      {"series": "Extra virgin 0,8%", "seg": "e1", "date": "2019-02-14T00:00:00", "price": 6.10},
      {"series": "Extra virgin 0,8%", "seg": "e1", "date": "2019-03-27T00:00:00", "price": 6.10},
      {"series": "Extra virgin 0,8%", "seg": "e1", "date": "2019-04-06T00:00:00", "price": 6.04},
      {"series": "Extra virgin 0,8%", "seg": "e1", "date": "2019-04-17T00:00:00", "price": 6.04},
      {"series": "Extra virgin 0,8%", "seg": "e1", "date": "2019-05-07T00:00:00", "price": 5.90},
      {"series": "Extra virgin 0,8%", "seg": "e1", "date": "2019-05-17T00:00:00", "price": 5.85},
      {"series": "Extra virgin 0,8%", "seg": "e1", "date": "2019-06-01T00:00:00", "price": 5.69},
      {"series": "Extra virgin 0,8%", "seg": "e1", "date": "2019-06-11T00:00:00", "price": 5.65},
      {"series": "Extra virgin 0,8%", "seg": "e1", "date": "2019-06-27T00:00:00", "price": 5.44},
      {"series": "Extra virgin 0,8%", "seg": "e1", "date": "2019-07-28T00:00:00", "price": 5.44},
      {"series": "Extra virgin 0,8%", "seg": "e1", "date": "2019-08-04T00:00:00", "price": 5.33},
      {"series": "Extra virgin 0,8%", "seg": "e1", "date": "2019-08-16T00:00:00", "price": 5.23},
      {"series": "Extra virgin 0,8%", "seg": "e1", "date": "2019-09-04T00:00:00", "price": 5.21},
      {"series": "Extra virgin 0,8%", "seg": "e1", "date": "2019-09-11T00:00:00", "price": 5.11},
      {"series": "Extra virgin 0,8%", "seg": "e1", "date": "2019-09-24T00:00:00", "price": 4.80},
      {"series": "Extra virgin 0,8%", "seg": "e1", "date": "2019-10-07T00:00:00", "price": 4.48},
      {"series": "Extra virgin 0,8%", "seg": "e1", "date": "2019-10-15T00:00:00", "price": 5.11},
      {"series": "Extra virgin 0,8%", "seg": "e1", "date": "2019-10-22T00:00:00", "price": 5.03},
      {"series": "Extra virgin 0,8%", "seg": "e2", "date": "2019-11-04T00:00:00", "price": 4.69},
      {"series": "Extra virgin 0,8%", "seg": "e2", "date": "2019-11-19T00:00:00", "price": 4.22},
      {"series": "Extra virgin 0,8%", "seg": "e2", "date": "2019-11-27T00:00:00", "price": 4.15},
      {"series": "Extra virgin 0,8%", "seg": "e2", "date": "2019-12-07T00:00:00", "price": 4.03},
      {"series": "Extra virgin 0,8%", "seg": "e2", "date": "2019-12-17T00:00:00", "price": 4.02},
      {"series": "Extra virgin 0,8%", "seg": "e2", "date": "2019-12-30T00:00:00", "price": 3.97},
      {"series": "Extra virgin 0,8%", "seg": "e2", "date": "2020-01-07T00:00:00", "price": 3.76},
      {"series": "Extra virgin 0,8%", "seg": "e2", "date": "2020-01-20T00:00:00", "price": 3.57},
      {"series": "Extra virgin 0,8%", "seg": "e2", "date": "2020-02-04T00:00:00", "price": 3.53},
      {"series": "Extra virgin 0,8%", "seg": "e2", "date": "2020-02-14T00:00:00", "price": 3.58},
      {"series": "Extra virgin 0,8%", "seg": "e2", "date": "2020-03-23T00:00:00", "price": 3.58},
      {"series": "Extra virgin 0,8%", "seg": "e2", "date": "2020-04-02T00:00:00", "price": 3.64},
      {"series": "Extra virgin 0,8%", "seg": "e2", "date": "2020-04-23T00:00:00", "price": 3.65},
      {"series": "Extra virgin 0,8%", "seg": "e2", "date": "2020-05-08T00:00:00", "price": 3.68},
      {"series": "Extra virgin 0,8%", "seg": "e2", "date": "2020-06-18T00:00:00", "price": 3.68},
      {"series": "Extra virgin 0,8%", "seg": "e2", "date": "2020-06-28T00:00:00", "price": 3.70},
      {"series": "Extra virgin 0,8%", "seg": "e2", "date": "2020-07-16T00:00:00", "price": 3.72},
      {"series": "Extra virgin 0,8%", "seg": "e2", "date": "2020-07-29T00:00:00", "price": 3.82},
      {"series": "Extra virgin 0,8%", "seg": "e2", "date": "2020-08-08T00:00:00", "price": 4.03},
      {"series": "Extra virgin 0,8%", "seg": "e2", "date": "2020-08-21T00:00:00", "price": 4.09},
      {"series": "Extra virgin 0,8%", "seg": "e2", "date": "2020-09-05T00:00:00", "price": 4.15},
      {"series": "Extra virgin 0,8%", "seg": "e2", "date": "2020-09-28T00:00:00", "price": 4.12},
      {"series": "Extra virgin 0,8%", "seg": "e2", "date": "2020-10-13T00:00:00", "price": 4.04},
      {"series": "Extra virgin 0,8%", "seg": "e2", "date": "2020-10-24T00:00:00", "price": 4.03},
      {"series": "Extra virgin 0,8%", "seg": "e2", "date": "2020-10-29T00:00:00", "price": 3.99}
    ],
    "seasons": [
      {"date": "2016-11-01T00:00:00"},
      {"date": "2017-11-02T00:00:00"},
      {"date": "2018-11-02T00:00:00"},
      {"date": "2019-11-01T00:00:00"}
    ]
  },
  "layer": [
    {
      "data": {"name": "prices"},
      "mark": {"type": "line", "strokeWidth": 4.5, "strokeCap": "round", "strokeJoin": "round"},
      "encoding": {
        "x": {
          "field": "date",
          "type": "temporal",
          "scale": {"domain": [{"year": 2015, "month": 11, "date": 1}, {"year": 2020, "month": 10, "date": 30}]},
          "axis": {
            "title": null,
            "format": "%b-%y",
            "tickCount": {"interval": "month", "step": 2},
            "labelAngle": -90,
            "labelFontSize": 21.5,
            "labelPadding": 8,
            "labelOverlap": false,
            "labelFlush": false,
            "domainColor": "#d9d9d9",
            "domainWidth": 1.5,
            "tickColor": "#d9d9d9",
            "tickWidth": 1.5,
            "tickSize": 6,
            "grid": true,
            "gridColor": "#dcdcdc",
            "gridWidth": 1.5
          }
        },
        "y": {
          "field": "price",
          "type": "quantitative",
          "scale": {"domain": [2, 10], "nice": false, "zero": false},
          "axis": {
            "title": null,
            "values": [2, 3, 4, 5, 6, 7, 8, 9, 10],
            "labelExpr": "replace(format(datum.value, '.2f'), '.', ',')",
            "labelFontSize": 22,
            "labelPadding": 22,
            "domain": false,
            "ticks": false,
            "grid": true,
            "gridColor": "#dcdcdc",
            "gridWidth": 1.5
          }
        },
        "color": {
          "field": "series",
          "type": "nominal",
          "scale": {"domain": ["Toscano PGI", "Extra virgin 0,8%"], "range": ["#5b9bd5", "#44546a"]},
          "legend": {
            "title": null,
            "orient": "none",
            "direction": "horizontal",
            "legendX": 306,
            "legendY": 429,
            "symbolType": "stroke",
            "symbolSize": 3000,
            "symbolStrokeWidth": 4.5,
            "labelFontSize": 20,
            "labelColor": "#595959",
            "labelOffset": 5,
            "columnPadding": 107,
            "labelLimit": 300
          }
        },
        "detail": {"field": "seg", "type": "nominal"}
      }
    },
    {
      "data": {"name": "seasons"},
      "mark": {"type": "rule", "color": "#000000", "strokeWidth": 3, "strokeDash": [9, 5]},
      "encoding": {
        "x": {"field": "date", "type": "temporal"}
      }
    }
  ]
}
